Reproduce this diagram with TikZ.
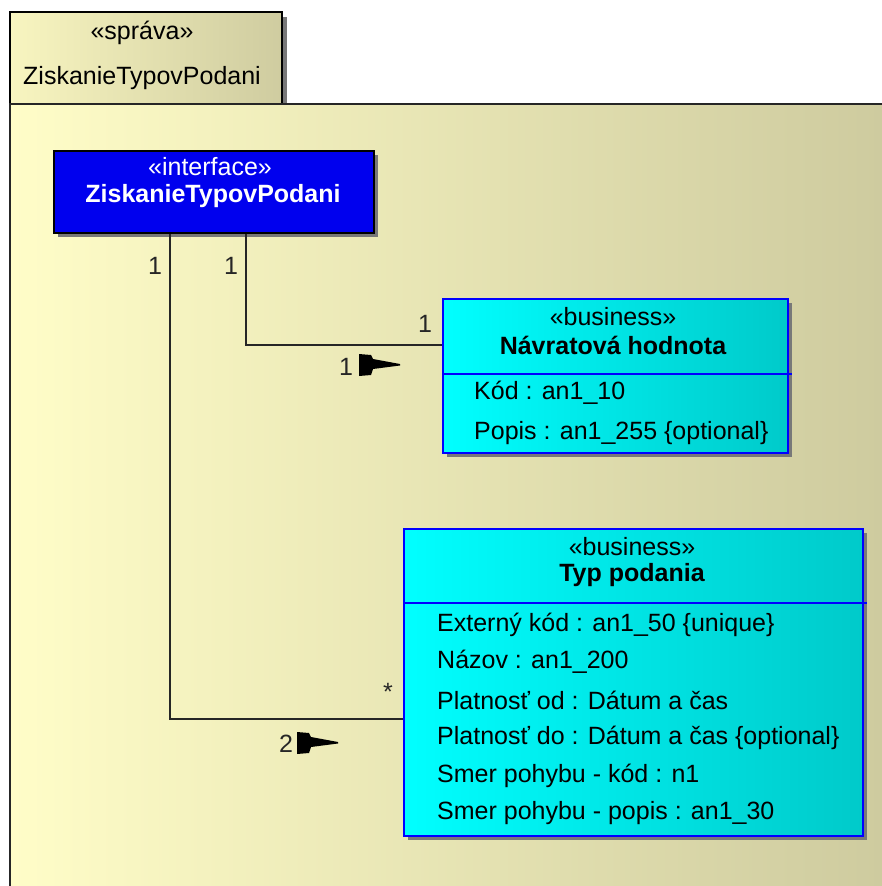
\documentclass[tikz,border=0pt]{standalone}
\usepackage{fontspec}
\setmainfont{Liberation Sans}
\usetikzlibrary{positioning,shadows}

\definecolor{pkgleft}{RGB}{255,253,200}
\definecolor{pkgright}{RGB}{205,202,158}
\definecolor{tableft}{RGB}{248,245,192}
\definecolor{tabright}{RGB}{207,204,160}
\definecolor{ifaceblue}{RGB}{0,0,238}
\definecolor{cyanleft}{RGB}{0,255,255}
\definecolor{cyanright}{RGB}{0,202,202}
\definecolor{shadowgray}{RGB}{120,120,120}

\begin{document}
\begin{tikzpicture}[x=1pt, y=-1pt, font=\fontsize{25}{30}\selectfont, inner sep=0pt,
  shade/.style={drop shadow={shadow xshift=4.5pt, shadow yshift=-4.5pt, fill=shadowgray, opacity=1}},
  pkgtab/.style={draw=black, line width=1.6pt, left color=tableft, right color=tabright, shade},
  ifacebox/.style={rectangle, draw=black, line width=1.6pt, fill=ifaceblue, anchor=north west, shade},
  classbox/.style={rectangle, draw=blue, line width=1.6pt, left color=cyanleft, right color=cyanright, anchor=north west, shade},
  stereo/.style={text=black},
  title/.style={text=black, font=\fontsize{25}{30}\selectfont\bfseries},
  attr/.style={anchor=west, text=black},
  mult/.style={text=black!85},
  assoc/.style={draw=black!85, line width=1.6pt},
  dirflag/.pic={\fill[black] (0,-11) -- (12,-10) -- (14,-6) -- (41,-1) -- (41,0.5) -- (14,4) -- (12,10) -- (0,11) -- cycle;}]
  \path[use as bounding box] (0,0) rectangle (882,886);
  \clip (0,0) rectangle (882,886);

  % package frame
  \draw[pkgtab] (10,12) rectangle (282,104);
  \path[left color=pkgleft, right color=pkgright] (10,104) rectangle (900,900);
  \draw[black!85, line width=1.6pt] (900,104) -- (10,104) -- (10,900);
  \node (pkgstereo) at (142,33) {«správa»};
  \node (pkgname) at (142,78) {ZiskanieTypovPodani};

  % interface
  \node[ifacebox, minimum width=320pt, minimum height=82pt] (iface) at (53,150) {};
  \node[text=white] (ifacestereo) at (210,167) {«interface»};
  \node[text=white, font=\fontsize{25}{30}\selectfont\bfseries] (ifacename) at (213,196) {ZiskanieTypovPodani};

  % Navratova hodnota
  \node[classbox, minimum width=345pt, minimum height=154pt] (nav) at (442,298) {};
  \draw[blue, line width=1.6pt] (nav.west |- 0,374) -- ([xshift=3pt]nav.east |- 0,374);
  \node[stereo] (navstereo) at (613,317) {«business»};
  \node[title] (navname) at (613,345) {Návratová hodnota};
  \node[attr] (navkod) at (474,393) {Kód : an1\_10};
  \node[attr] (navpopis) at (474,433) {Popis : an1\_255 \{optional\}};

  % Typ podania
  \node[classbox, minimum width=459pt, minimum height=307pt] (typ) at (403,528) {};
  \draw[blue, line width=1.6pt] (typ.west |- 0,603) -- ([xshift=3pt]typ.east |- 0,603);
  \node[stereo] (typstereo) at (632,547) {«business»};
  \node[title] (typname) at (632,575) {Typ podania};
  \node[attr] (typext) at (437,625) {Externý kód : an1\_50 \{unique\}};
  \node[attr] (typnazov) at (437,662) {Názov : an1\_200};
  \node[attr] (typod) at (437,700) {Platnosť od : Dátum a čas};
  \node[attr] (typdo) at (437,738) {Platnosť do : Dátum a čas \{optional\}};
  \node[attr] (typsmerk) at (437,776) {Smer pohybu - kód : n1};
  \node[attr] (typsmerp) at (437,813) {Smer pohybu - popis : an1\_30};

  % associations
  \draw[assoc] ([xshift=32pt]iface.south) |- ([yshift=31pt]nav.west);
  \draw[assoc] ([xshift=-44pt]iface.south) |- ([yshift=-36.5pt]typ.west);

  \node[mult] (navsrc) at (231,266) {1};
  \node[mult] (navdst) at (425,324) {1};
  \node[mult] (navrole) at (346,367) {1};
  \pic at (359,365) {dirflag};

  \node[mult] (typsrc) at (155,266) {1};
  \node[mult] (typdst) at (388,692) {*};
  \node[mult] (typrole) at (286,744) {2};
  \pic at (297,743) {dirflag};
\end{tikzpicture}
\end{document}
